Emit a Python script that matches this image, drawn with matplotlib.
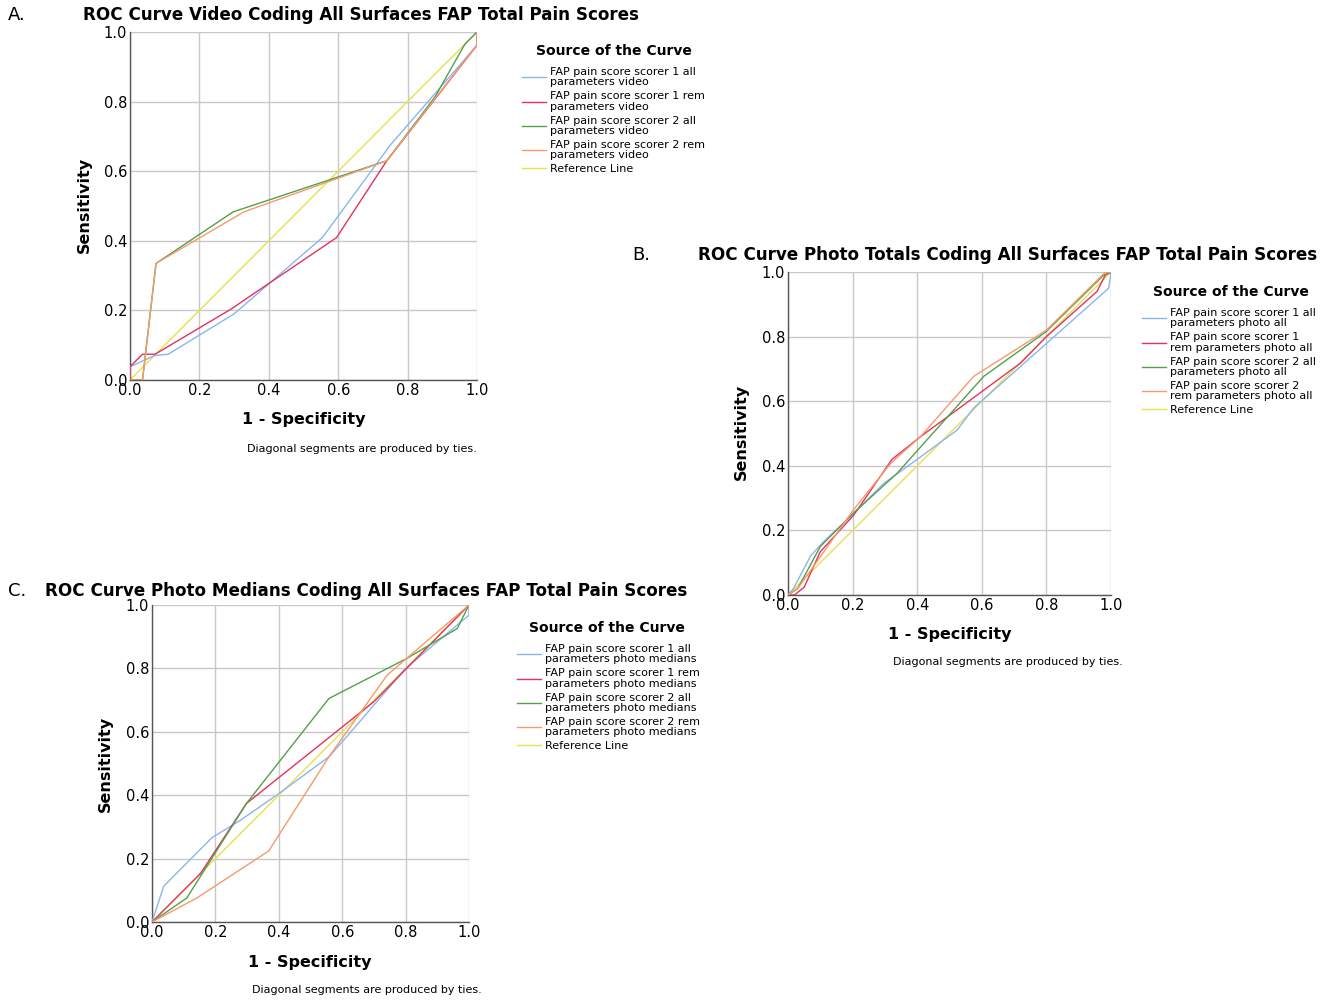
"""Three ROC panels (video / photo totals / photo medians) for FAP total pain scores."""

import matplotlib
matplotlib.use("Agg")
import matplotlib.pyplot as plt  # noqa: E402

BLUE = "#8ab6ec"
RED = "#e3325f"
GREEN = "#55a04a"
ORANGE = "#f59a6c"
YELLOW = "#e8e04c"
GRID = "#c8c8c8"

plt.rcParams["font.family"] = ["DejaVu Sans"]

# --- Panel A: video coding -------------------------------------------------
A_S1_ALL_X = [0.0, 0.0, 0.07, 0.11, 0.30, 0.555, 0.75, 1.0, 1.0]
A_S1_ALL_Y = [0.0, 0.038, 0.07, 0.074, 0.19, 0.41, 0.675, 0.962, 1.0]
A_S1_REM_X = [0.0, 0.0, 0.036, 0.072, 0.29, 0.595, 0.74, 1.0, 1.0]
A_S1_REM_Y = [0.0, 0.038, 0.074, 0.074, 0.203, 0.409, 0.63, 0.962, 1.0]
A_S2_ALL_X = [0.0, 0.036, 0.075, 0.297, 0.74, 0.88, 0.965, 1.0]
A_S2_ALL_Y = [0.0, 0.0, 0.335, 0.483, 0.63, 0.815, 0.965, 1.0]
A_S2_REM_X = [0.0, 0.036, 0.075, 0.328, 0.74, 0.88, 1.0, 1.0]
A_S2_REM_Y = [0.0, 0.0, 0.335, 0.483, 0.63, 0.81, 0.962, 1.0]

# --- Panel B: photo totals -------------------------------------------------
B_S1_ALL_X = [0.0, 0.017, 0.07, 0.11, 0.204, 0.297, 0.40, 0.524, 0.575, 0.993, 1.0]
B_S1_ALL_Y = [0.0, 0.02, 0.121, 0.165, 0.253, 0.346, 0.42, 0.511, 0.579, 0.95, 1.0]
B_S1_REM_X = [0.0, 0.02, 0.05, 0.10, 0.204, 0.322, 0.41, 0.72, 0.80, 0.957, 0.982, 1.0]
B_S1_REM_Y = [0.0, 0.0, 0.024, 0.134, 0.248, 0.42, 0.49, 0.718, 0.80, 0.94, 0.99, 1.0]
B_S2_ALL_X = [0.0, 0.03, 0.10, 0.204, 0.338, 0.606, 0.80, 0.865, 0.977, 1.0]
B_S2_ALL_Y = [0.0, 0.02, 0.15, 0.255, 0.377, 0.677, 0.816, 0.88, 0.99, 1.0]
B_S2_REM_X = [0.0, 0.03, 0.08, 0.20, 0.32, 0.41, 0.575, 0.80, 0.98, 1.0]
B_S2_REM_Y = [0.0, 0.02, 0.09, 0.26, 0.41, 0.49, 0.677, 0.82, 0.997, 1.0]

# --- Panel C: photo medians ------------------------------------------------
C_S1_ALL_X = [0.0, 0.037, 0.189, 0.279, 0.40, 0.558, 0.605, 0.80, 0.963, 1.0, 1.0]
C_S1_ALL_Y = [0.0, 0.113, 0.266, 0.321, 0.405, 0.521, 0.574, 0.80, 0.937, 0.968, 1.0]
C_S1_REM_X = [0.0, 0.153, 0.298, 0.70, 1.0]
C_S1_REM_Y = [0.0, 0.153, 0.374, 0.695, 1.0]
C_S2_ALL_X = [0.0, 0.11, 0.298, 0.558, 0.805, 0.963, 1.0]
C_S2_ALL_Y = [0.0, 0.076, 0.374, 0.705, 0.832, 0.926, 1.0]
C_S2_REM_X = [0.0, 0.142, 0.368, 0.558, 0.742, 1.0]
C_S2_REM_Y = [0.0, 0.076, 0.224, 0.521, 0.779, 1.0]

REF_X = [0.0, 1.0]
REF_Y = [0.0, 1.0]

TICKS = [0.0, 0.2, 0.4, 0.6, 0.8, 1.0]

A_LABELS = [
    "FAP pain score scorer 1 all\nparameters video",
    "FAP pain score scorer 1 rem\nparameters video",
    "FAP pain score scorer 2 all\nparameters video",
    "FAP pain score scorer 2 rem\nparameters video",
    "Reference Line",
]
B_LABELS = [
    "FAP pain score scorer 1 all\nparameters photo all",
    "FAP pain score scorer 1\nrem parameters photo all",
    "FAP pain score scorer 2 all\nparameters photo all",
    "FAP pain score scorer 2\nrem parameters photo all",
    "Reference Line",
]
C_LABELS = [
    "FAP pain score scorer 1 all\nparameters photo medians",
    "FAP pain score scorer 1 rem\nparameters photo medians",
    "FAP pain score scorer 2 all\nparameters photo medians",
    "FAP pain score scorer 2 rem\nparameters photo medians",
    "Reference Line",
]

W, H = 1335, 1000


def fx(px):
    return px / W


def fy(py):
    return 1 - py / H


def draw_panel(fig, rect, series, labels, letter, title, letter_xy, title_xy,
               legend_title_xy, legend_xy, ylabel_xy, xlabel_xy, note_xy):
    ax = fig.add_axes(rect)
    colors = [BLUE, RED, GREEN, ORANGE]
    handles = []
    for (xs, ys), c in zip(series, colors):
        (h,) = ax.plot(xs, ys, color=c, lw=1.0, zorder=3)
        handles.append(h)
    (ref,) = ax.plot(REF_X, REF_Y, color=YELLOW, lw=1.0, zorder=2)
    handles.append(ref)

    ax.set_xlim(0, 1)
    ax.set_ylim(0, 1)
    ax.set_xticks(TICKS)
    ax.set_yticks(TICKS)
    ax.set_xticklabels([f"{t:.1f}" for t in TICKS])
    ax.set_yticklabels([f"{t:.1f}" for t in TICKS])
    ax.tick_params(length=0, labelsize=10.5, pad=2)
    ax.grid(True, color=GRID, lw=1.0)
    ax.set_axisbelow(True)
    for s in ("top", "right"):
        ax.spines[s].set_visible(False)
    for s in ("left", "bottom"):
        ax.spines[s].set_color("#555555")
        ax.spines[s].set_linewidth(1.0)

    fig.text(fx(letter_xy[0]), fy(letter_xy[1]), letter, fontsize=13,
             ha="left", va="center")
    fig.text(fx(title_xy[0]), fy(title_xy[1]), title, fontsize=12.1,
             fontweight="bold", ha="center", va="center")
    fig.text(fx(ylabel_xy[0]), fy(ylabel_xy[1]), "Sensitivity", fontsize=11.5,
             fontweight="bold", rotation=90, ha="center", va="center")
    fig.text(fx(xlabel_xy[0]), fy(xlabel_xy[1]), "1 - Specificity", fontsize=11.5,
             fontweight="bold", ha="center", va="center")
    fig.text(fx(note_xy[0]), fy(note_xy[1]), "Diagonal segments are produced by ties.",
             fontsize=8, ha="center", va="center")
    fig.text(fx(legend_title_xy[0]), fy(legend_title_xy[1]), "Source of the Curve",
             fontsize=10, fontweight="bold", ha="center", va="center")

    leg = fig.legend(handles, labels, loc="upper left",
                     bbox_to_anchor=(fx(legend_xy[0]), fy(legend_xy[1])),
                     frameon=False, fontsize=8,
                     handlelength=2.2, handletextpad=0.3, labelspacing=0.35,
                     borderaxespad=0, borderpad=0)
    for t in leg.get_texts():
        t.set_linespacing(1.05)
    return ax


def main():
    fig = plt.figure(figsize=(W / 100, H / 100), dpi=100)

    draw_panel(
        fig, [fx(130), fy(380), fx(347), 0.348],
        [(A_S1_ALL_X, A_S1_ALL_Y), (A_S1_REM_X, A_S1_REM_Y),
         (A_S2_ALL_X, A_S2_ALL_Y), (A_S2_REM_X, A_S2_REM_Y)],
        A_LABELS, "A.",
        "ROC Curve Video Coding All Surfaces FAP Total Pain Scores",
        letter_xy=(8, 15), title_xy=(361, 15), legend_title_xy=(614, 51),
        legend_xy=(522, 67),
        ylabel_xy=(84, 205), xlabel_xy=(304, 420), note_xy=(362, 449),
    )
    draw_panel(
        fig, [fx(788), fy(595), fx(323), 0.323],
        [(B_S1_ALL_X, B_S1_ALL_Y), (B_S1_REM_X, B_S1_REM_Y),
         (B_S2_ALL_X, B_S2_ALL_Y), (B_S2_REM_X, B_S2_REM_Y)],
        B_LABELS, "B.",
        "ROC Curve Photo Totals Coding All Surfaces FAP Total Pain Scores",
        letter_xy=(632, 255), title_xy=(1008, 255), legend_title_xy=(1231, 292),
        legend_xy=(1142, 308),
        ylabel_xy=(741, 432), xlabel_xy=(950, 635), note_xy=(1008, 662),
    )
    draw_panel(
        fig, [fx(152), fy(922), fx(317), 0.317],
        [(C_S1_ALL_X, C_S1_ALL_Y), (C_S1_REM_X, C_S1_REM_Y),
         (C_S2_ALL_X, C_S2_ALL_Y), (C_S2_REM_X, C_S2_REM_Y)],
        C_LABELS, "C.",
        "ROC Curve Photo Medians Coding All Surfaces FAP Total Pain Scores",
        letter_xy=(8, 591), title_xy=(366, 591), legend_title_xy=(607, 628),
        legend_xy=(517, 644),
        ylabel_xy=(105, 764), xlabel_xy=(310, 962), note_xy=(367, 990),
    )

    plt.savefig("out.png", dpi=100)
    plt.close()


if __name__ == "__main__":
    main()
